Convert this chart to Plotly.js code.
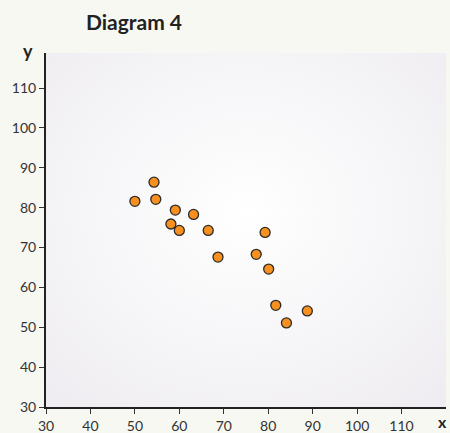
<!DOCTYPE html>
<html><head><meta charset="utf-8">
<script src="https://cdn.plot.ly/plotly-3.0.1.min.js"></script>
<style>html,body{margin:0;padding:0;background:#f8f8f2}#c{width:450px;height:433px}</style>
</head><body><div id="c"></div>
<script>
const xValues = [50.0, 54.3, 54.7, 59.1, 63.2, 58.1, 60.0, 66.5, 68.7, 79.3, 77.3, 80.1, 81.7, 84.1, 88.8];
const yValues = [81.6, 86.4, 82.1, 79.4, 78.3, 75.9, 74.3, 74.3, 67.6, 73.8, 68.3, 64.6, 55.5, 51.1, 54.1];
const xTicks = [30, 40, 50, 60, 70, 80, 90, 100, 110];
const yTicks = [30, 40, 50, 60, 70, 80, 90, 100, 110];

const grad = 'data:image/svg+xml;utf8,' + encodeURIComponent(
 '<svg xmlns="http://www.w3.org/2000/svg" width="400" height="354" preserveAspectRatio="none"><defs><radialGradient id="g" cx="0.5" cy="0.45" r="0.7"><stop offset="0" stop-color="#ffffff"/><stop offset="1" stop-color="#efedf1"/></radialGradient></defs><rect width="400" height="354" fill="url(#g)"/></svg>');

const font = {family: 'Lato, "Open Sans", sans-serif', color: '#333', size: 14};
Plotly.newPlot('c', [{
  x: xValues, y: yValues, type: 'scatter', mode: 'markers',
  marker: {size: 10, color: '#f7901e', line: {color: '#2b2b2b', width: 1.3}},
  hoverinfo: 'none'
}], {
  width: 450, height: 433,
  margin: {l: 46, r: 4, t: 53, b: 26},
  paper_bgcolor: '#f8f8f2', plot_bgcolor: '#f3f2f4',
  font: font,
  showlegend: false,
  title: {text: '<b>Diagram 4</b>', x: 134/450, xref: 'container', xanchor: 'center', y: 1 - 23/433, yref: 'container', yanchor: 'middle', font: {family: 'Lato, sans-serif', size: 21, color: '#222'}},
  xaxis: {range: [30, 120], tickvals: xTicks, ticktext: xTicks.map(String), showgrid: false, zeroline: false,
    showline: true, linecolor: '#222', linewidth: 2, ticks: 'outside', ticklen: 5, tickwidth: 1, tickcolor: '#333', tickfont: font},
  yaxis: {range: [30, 118.8], tickvals: yTicks, ticktext: yTicks.map(String), showgrid: false, zeroline: false,
    showline: true, linecolor: '#222', linewidth: 2, ticks: 'outside', ticklen: 5, tickwidth: 1, tickcolor: '#333', tickfont: font},
  images: [{source: grad, xref: 'paper', yref: 'paper', x: 0, y: 1, sizex: 1, sizey: 1, sizing: 'stretch', layer: 'below', xanchor: 'left', yanchor: 'top'}],
  annotations: [
    {text: '<b>y</b>', xref: 'paper', yref: 'paper', x: -18/400, y: 1, yanchor: 'middle', xanchor: 'center', yshift: 2, showarrow: false, font: {family: 'Lato, sans-serif', size: 18, color: '#222'}},
    {text: '<b>x</b>', xref: 'paper', yref: 'paper', x: 396/400, y: 0, yanchor: 'middle', xanchor: 'center', yshift: -14, borderpad: 0, showarrow: false, font: {family: 'Lato, sans-serif', size: 16, color: '#222'}}
  ]
}, {staticPlot: true});
</script></body></html>
